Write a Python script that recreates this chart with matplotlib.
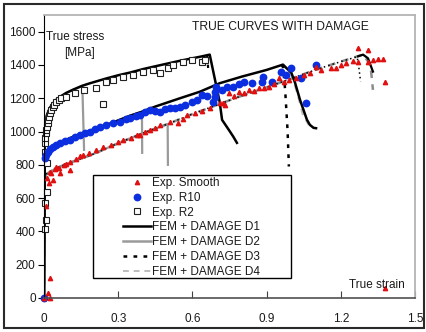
import matplotlib
matplotlib.use('Agg')
import matplotlib.pyplot as plt
from matplotlib.patches import Rectangle
from matplotlib.lines import Line2D

plt.rcParams['font.family'] = ['Liberation Sans', 'DejaVu Sans']

# experimental points: smooth specimen
smooth_x = [0.0, 0.017, 0.024, 0.024, 0.01, 0.02, 0.012, 0.024, 0.03, 0.037, 0.045, 0.05, 0.06, 0.065,
            0.08, 0.09, 0.105, 0.105, 0.13, 0.145, 0.158, 0.18, 0.21, 0.24, 0.27, 0.3, 0.32, 0.35,
            0.376, 0.39, 0.41, 0.43, 0.45, 0.47, 0.51, 0.54, 0.56, 0.58, 0.61, 0.64, 0.67, 0.71,
            0.725, 0.73, 0.75, 0.77, 0.79, 0.81, 0.83, 0.85, 0.87, 0.89, 0.91, 0.93, 0.95, 0.97,
            0.99, 1.02, 1.05, 1.075, 1.10, 1.12, 1.16, 1.18, 1.20, 1.22, 1.25, 1.27, 1.27, 1.31,
            1.31, 1.33, 1.35, 1.37, 1.38, 1.38]
smooth_y = [0, 30, 0, 120, 550, 692, 722, 758, 750, 710, 775, 788, 780, 752,
            800, 805, 818, 770, 835, 850, 860, 872, 890, 905, 920, 935, 950, 960,
            980, 980, 995, 1010, 1020, 1040, 1059, 1053, 1075, 1100, 1113, 1125, 1143, 1173,
            1173, 1160, 1233, 1215, 1239, 1230, 1251, 1245, 1263, 1260, 1269, 1285, 1323, 1300,
            1311, 1323, 1340, 1353, 1390, 1371, 1383, 1383, 1400, 1413, 1425, 1420, 1504, 1492,
            1420, 1432, 1438, 1438, 1300, 60]

# experimental points: notched R10
r10_x = [0.0, 0.003, 0.008, 0.016, 0.025, 0.037, 0.05, 0.065, 0.085, 0.105, 0.125, 0.146, 0.165,
         0.186, 0.205, 0.226, 0.25, 0.28, 0.307, 0.33, 0.348, 0.37, 0.388, 0.41, 0.43, 0.45, 0.47,
         0.49, 0.51, 0.53, 0.55, 0.57, 0.598, 0.62, 0.64, 0.66, 0.685, 0.69, 0.69, 0.695, 0.72,
         0.74, 0.764, 0.79, 0.81, 0.84, 0.88, 0.886, 0.92, 0.96, 0.98, 1.0, 1.04, 1.06, 1.10]
r10_y = [0, 842, 860, 878, 895, 908, 920, 932, 942, 950, 965, 980, 990,
         1000, 1015, 1029, 1040, 1053, 1059, 1075, 1083, 1095, 1101, 1115, 1131, 1125, 1119,
         1135, 1143, 1140, 1149, 1160, 1179, 1190, 1220, 1215, 1180, 1210, 1240, 1265, 1250,
         1265, 1270, 1285, 1300, 1293, 1300, 1330, 1300, 1360, 1341, 1383, 1323, 1173, 1402]

# experimental points: notched R2
r2_x = [0.005, 0.008, 0.006, 0.012, 0.012, 0.003, 0.005, 0.006, 0.008, 0.01, 0.012, 0.015, 0.018,
        0.02, 0.025, 0.03, 0.035, 0.04, 0.05, 0.06, 0.07, 0.09, 0.125, 0.16, 0.21, 0.24, 0.25,
        0.28, 0.32, 0.36, 0.40, 0.44, 0.47, 0.50, 0.52, 0.56, 0.60, 0.64, 0.65]
r2_y = [415, 469, 571, 638, 812, 880, 930, 960, 990, 1010, 1030, 1050, 1070,
        1090, 1110, 1130, 1145, 1160, 1175, 1190, 1200, 1210, 1230, 1250, 1262, 1165, 1300,
        1311, 1329, 1341, 1360, 1371, 1353, 1383, 1401, 1420, 1432, 1420, 1432]

# FEM hardening paths
fem_r2_x = [0, 0.003, 0.006, 0.012, 0.024, 0.045, 0.065, 0.09, 0.117, 0.155, 0.186, 0.25, 0.3,
            0.35, 0.4, 0.48, 0.55, 0.6, 0.64, 0.67]
fem_r2_y = [0, 1000, 1060, 1100, 1143, 1185, 1209, 1232, 1251, 1275, 1290, 1318, 1338,
            1355, 1375, 1402, 1425, 1440, 1452, 1462]
fem_r10_x = [0, 0.002, 0.005, 0.016, 0.037, 0.065, 0.105, 0.146, 0.186, 0.226, 0.28, 0.348, 0.396,
             0.45, 0.5, 0.55, 0.63, 0.71, 0.8, 0.9, 0.966]
fem_r10_y = [0, 800, 850, 878, 908, 935, 960, 985, 1005, 1025, 1055, 1095, 1119,
             1150, 1175, 1200, 1239, 1290, 1330, 1370, 1402]
fem_sm_x = [0, 0.003, 0.01, 0.05, 0.1, 0.2, 0.3, 0.4, 0.5, 0.6, 0.7, 0.8, 0.9, 1.0, 1.1, 1.2, 1.29]
fem_sm_y = [0, 700, 745, 780, 810, 865, 930, 990, 1045, 1105, 1160, 1215, 1265, 1318, 1372, 1420, 1462]

# failure branches
d1_r2_x = [0.67, 0.70, 0.71, 0.72, 0.745, 0.765, 0.78]
d1_r2_y = [1462, 1250, 1180, 1070, 1015, 970, 932]
d1_r10_x = [0.966, 1.0, 1.015, 1.035, 1.063, 1.075, 1.09, 1.10]
d1_r10_y = [1402, 1353, 1293, 1191, 1071, 1040, 1022, 1020]
d1_sm_x = [1.27, 1.29, 1.31, 1.33]
d1_sm_y = [1452, 1462, 1440, 1360]
d2_r2_x = [0.155, 0.162]
d2_r2_y = [1275, 890]
d2_r10_x = [0.396, 0.397]
d2_r10_y = [1119, 872]
d2_sm_x = [0.5, 0.501]
d2_sm_y = [1045, 800]
d3_r2_x = [0.66, 0.665]
d3_r2_y = [1455, 1350]
d3_r10_x = [0.96, 0.966, 0.975, 0.985, 0.99]
d3_r10_y = [1399, 1390, 1250, 1000, 790]
d3_sm_x = [1.265, 1.27, 1.28]
d3_sm_y = [1449, 1420, 1300]
d4_r10_x = [0.966, 1.0, 1.03, 1.045, 1.07]
d4_r10_y = [1402, 1350, 1200, 1110, 1040]
d4_sm_x = [1.29, 1.32, 1.33]
d4_sm_y = [1462, 1400, 1250]

ink = '#1a1a1a'
grey = '#9a9a9a'
light = '#bdbdbd'
red = '#e01010'
blue = '#0a2ee0'
d3_style = (0, (1.5, 2.5))
d4_style = (0, (3, 2.5))

fig = plt.figure(figsize=(4.27, 3.32), dpi=100)
ax = fig.add_axes([44 / 427, 1 - 298 / 332, (415 - 44) / 427, (298 - 15) / 332])

# D2 (grey solid) - early failure of each specimen
ax.plot(fem_r2_x[:10] + d2_r2_x, fem_r2_y[:10] + d2_r2_y, color=grey, lw=1.6)
ax.plot(fem_r10_x[:13] + d2_r10_x, fem_r10_y[:13] + d2_r10_y, color=grey, lw=1.6)
ax.plot(fem_sm_x[:9] + d2_sm_x, fem_sm_y[:9] + d2_sm_y, color=grey, lw=1.6)

# D4 (light dashed) and D3 (black dotted) on the smooth specimen
ax.plot(fem_sm_x + d4_sm_x[1:], fem_sm_y + d4_sm_y[1:], color='#8c8c8c', lw=1.8, ls=d4_style)
ax.plot(d4_r10_x, d4_r10_y, color=light, lw=1.6, ls=d4_style)
ax.plot(fem_sm_x[:-1] + d3_sm_x, fem_sm_y[:-1] + d3_sm_y, color='black', lw=1.1, ls=(0, (1, 2)))

# D1 (black solid)
ax.plot(fem_r2_x + d1_r2_x[1:], fem_r2_y + d1_r2_y[1:], color='black', lw=1.8)
ax.plot(fem_r10_x + d1_r10_x[1:], fem_r10_y + d1_r10_y[1:], color='black', lw=1.8)
ax.plot(d1_sm_x, d1_sm_y, color='black', lw=1.6)

# D3 failure branches on the notched specimens
ax.plot(d3_r2_x, d3_r2_y, color='black', lw=1.6, ls=d3_style)
ax.plot(d3_r10_x, d3_r10_y, color='black', lw=1.8, ls=d3_style)

# experiments
ax.plot(r2_x, r2_y, ls='none', marker='s', ms=4, mfc='white', mec='#202020', mew=0.8, clip_on=False)
ax.plot(r10_x, r10_y, ls='none', marker='o', ms=4.6, mfc=blue, mec=blue, clip_on=False)
ax.plot(smooth_x, smooth_y, ls='none', marker='^', ms=3.1, mfc=red, mec=red, clip_on=False)

ax.set_xlim(0, 1.5)
ax.set_ylim(0, 1700)
ax.set_xticks([0, 0.3, 0.6, 0.9, 1.2, 1.5])
ax.set_xticklabels(['0', '0.3', '0.6', '0.9', '1.2', '1.5'])
ax.set_yticks(range(0, 1601, 200))
ax.tick_params(axis='x', direction='in', length=5, pad=11, labelsize=8.5, labelcolor=ink, color='#404040')
ax.tick_params(axis='y', direction='out', length=4, pad=2, labelsize=8.5, labelcolor=ink)

ax.spines['left'].set_color('black')
ax.spines['bottom'].set_color('#505050')
ax.spines['bottom'].set_linewidth(1.2)
for side in ['top', 'right']:
    ax.spines[side].set_color('#b4b4b4')
    ax.spines[side].set_linewidth(1.3)

ax.text(0.008, 1565, 'True stress', fontsize=8.5, color=ink, va='center')
ax.text(0.08, 1470, '[MPa]', fontsize=8.5, color=ink, va='center')
ax.text(0.955, 1625, 'TRUE CURVES WITH DAMAGE', fontsize=8.7, color=ink, va='center', ha='center')
ax.text(1.46, 80, 'True strain', fontsize=8.5, color=ink, va='center', ha='right')

# legend box
ax.add_patch(Rectangle((0.132, 0.0707), 0.534, 0.364, transform=ax.transAxes,
                       fill=False, ec='black', lw=1, zorder=5))
handles = [
    Line2D([], [], ls='none', marker='^', ms=3.1, mfc=red, mec=red),
    Line2D([], [], ls='none', marker='o', ms=4.6, mfc=blue, mec=blue),
    Line2D([], [], ls='none', marker='s', ms=4, mfc='white', mec='#202020', mew=0.8),
    Line2D([], [], color='black', lw=1.8),
    Line2D([], [], color=grey, lw=1.8),
    Line2D([], [], color='black', lw=1.8, ls=d3_style),
    Line2D([], [], color=light, lw=1.4, ls=d4_style),
]
labels = ['Exp. Smooth', 'Exp. R10', 'Exp. R2', 'FEM + DAMAGE D1', 'FEM + DAMAGE D2',
          'FEM + DAMAGE D3', 'FEM + DAMAGE D4']
leg = ax.legend(handles, labels, loc='upper left', bbox_to_anchor=(0.213, 0.428), frameon=False,
                fontsize=8.5, handlelength=2.4, handletextpad=0.05, labelspacing=0.24,
                borderpad=0, borderaxespad=0, numpoints=1)
for t in leg.get_texts():
    t.set_color(ink)

fig.add_artist(Rectangle((4 / 427, 4 / 332), 420 / 427, 324 / 332, transform=fig.transFigure,
                         fill=False, ec='#2a2a2a', lw=1.5))

fig.savefig('out.png', dpi=100)
